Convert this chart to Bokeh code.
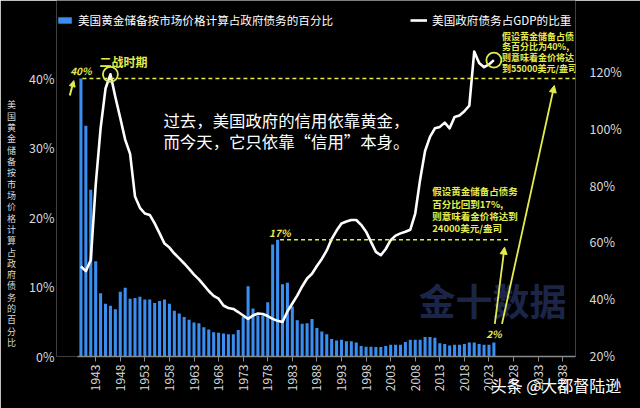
import math
from bokeh.plotting import figure
from bokeh.models import (Range1d, LinearAxis, FixedTicker, Label, Arrow, NormalHead,
                          Legend, LegendItem, ColumnDataSource, PrintfTickFormatter)
from bokeh.embed import file_html
from bokeh.resources import INLINE

# ---------------- data ----------------
years = list(range(1940, 2025))
gold_pct_of_debt = [
    40.0, 33.2, 24.0, 13.7, 9.1, 7.6, 7.3, 6.8, 9.3, 9.9,
    8.3, 8.4, 8.6, 8.2, 8.2, 7.7, 8.0, 8.2, 7.6, 6.6,
    6.2, 5.7, 5.3, 4.9, 4.8, 4.2, 3.9, 3.5, 3.4, 3.3,
    3.2, 3.2, 3.8, 5.7, 10.1, 6.9, 5.9, 5.9, 7.8, 16.1,
    16.8, 10.4, 10.6, 7.2, 5.2, 4.7, 4.8, 5.4, 4.1, 3.6,
    3.2, 2.5, 2.3, 2.4, 2.2, 2.2, 2.0, 1.5, 1.4, 1.4,
    1.35, 1.35, 1.5, 1.7, 1.7, 1.7, 2.1, 2.4, 2.4, 2.4,
    2.8, 2.8, 2.7, 1.9, 1.8, 1.6, 1.7, 1.7, 1.8, 2.0,
    2.0, 1.8, 1.7, 1.7, 2.0,
]
debt_to_gdp = [
    51.4, 49.7, 53.6, 80.0, 100.0, 114.0, 119.0, 111.0, 103.6, 96.0,
    91.0, 76.0, 72.0, 70.0, 69.5, 66.5, 63.0, 59.4, 58.0, 55.9,
    54.2, 52.4, 50.5, 48.5, 46.8, 44.8, 42.7, 41.0, 40.0, 37.6,
    36.7, 36.4, 35.3, 34.1, 32.9, 34.1, 34.8, 34.6, 33.9, 32.9,
    32.2, 31.8, 35.5, 38.3, 41.1, 44.3, 47.1, 48.8, 51.5, 54.0,
    57.0, 61.0, 64.0, 66.5, 67.2, 67.7, 67.7, 66.0, 63.6, 60.0,
    56.5, 55.3, 57.5, 60.6, 62.2, 63.0, 63.6, 64.3, 70.0, 82.0,
    92.0, 97.0, 100.0, 100.5, 102.0, 100.0, 104.0, 104.5, 106.0, 108.0,
    127.0, 123.0, 121.5, 122.5, 124.0,
]
x_ticks = list(range(1943, 2039, 5))
left_ticks = [0, 10, 20, 30, 40]
right_ticks = [20, 40, 60, 80, 100, 120]

bar_label = "美国黄金储备按市场价格计算占政府债务的百分比"
line_label = "美国政府债务占GDP的比重"
axis_title = "美国黄金储备按市场价格计算占政府债务的百分比"
ww2_text = "二战时期"
main_text = "过去，美国政府的信用依靠黄金，\n而今天，它只依靠“信用”本身。"
note_40 = "假设黄金储备占债\n务百分比为40%,\n则意味着金价将达\n到55000美元/盎司"
note_17 = "假设黄金储备占债务\n百分比回到17%,\n则意味着金价将达到\n24000美元/盎司"
brand = "金十数据"
credit = "头条 @大都督陆逊"

# ---------------- style ----------------
CJK = "Noto Sans CJK SC"
YEL = "#e3ec4e"
BLUE = "#3a8ef0"
TXT = "#d9d9d9"
X_END = 2040.6

src = ColumnDataSource(dict(year=years, gold=gold_pct_of_debt, debt=debt_to_gdp))

p = figure(width=640, height=408, output_backend="svg", toolbar_location=None,
           x_range=Range1d(1935.03, X_END), y_range=Range1d(0, 51.22),
           background_fill_color="black", border_fill_color="black",
           outline_line_color=None,
           min_border_left=56, min_border_right=65, min_border_top=0, min_border_bottom=52)
p.extra_y_ranges = {"right": Range1d(19.65, 145.0)}
p.grid.visible = False

# watermark
p.add_layout(Label(x=2008.66, y=8.06, text=brand, text_font=CJK, text_font_size="37px",
                   text_font_style="bold", text_color="#1b2548", text_baseline="middle",
                   text_align="left", level="underlay"))

bars = p.vbar(x="year", top="gold", width=0.62, source=src, fill_color=BLUE, line_color=None)
line = p.line(x="year", y="debt", source=src, y_range_name="right",
              line_color="white", line_width=2.6, line_join="round")

# axes
ly = p.yaxis[0]
ly.ticker = FixedTicker(ticks=left_ticks)
ly.formatter = PrintfTickFormatter(format="%d%%")
ly.axis_line_color = None
ly.major_tick_line_color = None
ly.minor_tick_line_color = None
ly.major_tick_out = 0
ly.major_tick_in = 0
ly.major_label_standoff = 2
ly.major_label_text_color = TXT
ly.major_label_text_font = CJK
ly.major_label_text_font_size = "12.5px"
ly.axis_label = "\n" * 8 + "\n".join(axis_title)
ly.axis_label_orientation = "horizontal"
ly.axis_label_standoff = 10
ly.axis_label_text_font = CJK
ly.axis_label_text_font_size = "9px"
ly.axis_label_text_font_style = "normal"
ly.axis_label_text_color = TXT
ly.axis_label_text_line_height = 0.87

ry = LinearAxis(y_range_name="right", ticker=FixedTicker(ticks=right_ticks),
                formatter=PrintfTickFormatter(format="%d%%"))
ry.axis_line_color = None
ry.major_tick_line_color = None
ry.minor_tick_line_color = None
ry.major_tick_out = 0
ry.major_tick_in = 0
ry.major_label_standoff = 14
ry.major_label_text_color = TXT
ry.major_label_text_font = CJK
ry.major_label_text_font_size = "12.5px"
p.add_layout(ry, "right")

bx = p.xaxis[0]
bx.ticker = FixedTicker(ticks=x_ticks)
bx.bounds = (1939.3, X_END)
bx.major_label_orientation = math.pi / 2
bx.axis_line_color = "#8a8a8a"
bx.axis_line_width = 1.5
bx.major_tick_line_color = "#8a8a8a"
bx.major_tick_out = 5
bx.major_tick_in = 0
bx.minor_tick_line_color = None
bx.major_label_standoff = 3
bx.major_label_text_color = TXT
bx.major_label_text_font = CJK
bx.major_label_text_font_size = "12px"
# credit line, placed under the right end of the axis (ideographic spaces shift it right)
bx.axis_label = "\u3000" * 30 + credit
bx.axis_label_standoff = -21
bx.axis_label_text_font = CJK
bx.axis_label_text_font_size = "16px"
bx.axis_label_text_font_style = "normal"
bx.axis_label_text_color = "white"

# legend
legend = Legend(items=[LegendItem(label=bar_label, renderers=[bars]),
                       LegendItem(label=line_label, renderers=[line])],
                orientation="horizontal", location=(0, 328), spacing=77,
                padding=0, margin=0, glyph_width=17, glyph_height=8, label_height=14,
                label_standoff=5, background_fill_alpha=0, border_line_color=None,
                label_text_color="white", label_text_font=CJK, label_text_font_size="11.6px")
p.add_layout(legend)

# 40% reference
i_peak_gold = gold_pct_of_debt.index(max(gold_pct_of_debt))
p.segment(x0=[years[i_peak_gold] + 0.3], y0=[gold_pct_of_debt[i_peak_gold]], x1=[X_END],
          y1=[gold_pct_of_debt[i_peak_gold]], line_color=YEL, line_dash="4 3", line_width=1.5)
p.add_layout(Label(x=years[i_peak_gold], y=gold_pct_of_debt[i_peak_gold] + 1.2, text="40%",
                   text_align="center", text_baseline="middle", text_font=CJK,
                   text_font_size="10px", text_font_style="bold italic", text_color=YEL))
p.add_layout(Arrow(x_start=1937.73, y_start=37.55, x_end=1938.55, y_end=39.7,
                   line_color=YEL, line_width=2,
                   end=NormalHead(size=6, fill_color=YEL, line_color=YEL)))

# WWII peak
i_ww2 = debt_to_gdp.index(max(debt_to_gdp[:20]))
p.scatter([years[i_ww2]], [debt_to_gdp[i_ww2]], y_range_name="right", marker="circle", size=15,
          fill_alpha=0, line_color=YEL, line_width=1.8)
p.add_layout(Label(x=1948.66, y=42.5, text=ww2_text, text_align="center", text_baseline="middle",
                   text_font=CJK, text_font_size="12px", text_font_style="bold", text_color=YEL))

# end-of-series circle
p.scatter([years[-1]], [debt_to_gdp[-1]], y_range_name="right", marker="circle", size=15,
          fill_alpha=0, line_color=YEL, line_width=1.8)

# 17% reference
i_17 = gold_pct_of_debt.index(max(gold_pct_of_debt[30:]))
p.segment(x0=[years[i_17] + 0.5], y0=[gold_pct_of_debt[i_17]], x1=[2027.0],
          y1=[gold_pct_of_debt[i_17]], line_color=YEL, line_dash="4 3", line_width=1.5)
p.add_layout(Label(x=years[i_17] + 0.45, y=gold_pct_of_debt[i_17] + 1.1, text="17%",
                   text_align="center", text_baseline="middle", text_font=CJK,
                   text_font_size="10px", text_font_style="bold italic", text_color=YEL))

# 2% label and arrows
p.add_layout(Label(x=years[-1], y=gold_pct_of_debt[-1] + 1.35, text="2%",
                   text_align="center", text_baseline="middle", text_font=CJK,
                   text_font_size="10px", text_font_style="bold italic", text_color=YEL))
p.add_layout(Arrow(x_start=2024.19, y_start=4.7, x_end=2026.16, y_end=15.73,
                   line_color=YEL, line_width=1.8,
                   end=NormalHead(size=7, fill_color=YEL, line_color=YEL)))
p.add_layout(Arrow(x_start=2025.65, y_start=4.7, x_end=2036.29, y_end=38.99,
                   line_color=YEL, line_width=1.8,
                   end=NormalHead(size=7, fill_color=YEL, line_color=YEL)))

# notes
p.add_layout(Label(x=2025.65, y=47.0, text=note_40, text_align="left", text_baseline="top",
                   text_font=CJK, text_font_size="9px", text_font_style="bold",
                   text_line_height=0.82, text_color=YEL))
p.add_layout(Label(x=2011.45, y=24.75, text=note_17, text_align="left", text_baseline="top",
                   text_font=CJK, text_font_size="9.5px", text_font_style="bold",
                   text_line_height=0.88, text_color=YEL))
p.add_layout(Label(x=1956.79, y=35.7, text=main_text, text_align="left", text_baseline="top",
                   text_font=CJK, text_font_size="16.4px", text_line_height=0.87,
                   text_color="white"))

open("out.html", "w").write(file_html(p, INLINE))
